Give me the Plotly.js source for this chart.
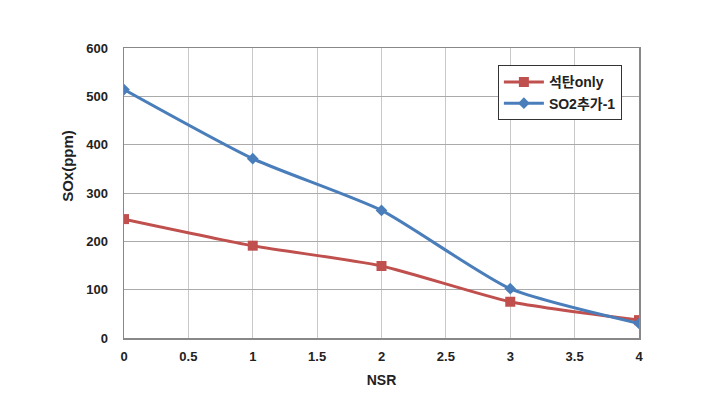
<!DOCTYPE html>
<html>
<head>
<meta charset="utf-8">
<script src="https://cdn.plot.ly/plotly-3.0.1.min.js"></script>
<style>html,body{margin:0;padding:0;background:#fff;}#chart{width:711px;height:402px;}</style>
</head>
<body>
<div id="chart"></div>
<script>
const nsr = [0, 1, 2, 3, 4];
const coalOnly = [246, 191, 149, 75, 37];
const so2Added = [514, 371, 264, 102, 30];
const seriesNames = ['석탄only', 'SO2추가-1'];
const xTicks = [0, 0.5, 1, 1.5, 2, 2.5, 3, 3.5, 4];
const yTicks = [0, 100, 200, 300, 400, 500, 600];

const fontFam = 'Liberation Sans, Arial, Noto Sans CJK KR, sans-serif';
const traces = [
  {x: nsr, y: coalOnly, name: seriesNames[0], type: 'scatter', mode: 'lines+markers',
   line: {color: '#C0504D', width: 3, shape: 'spline', smoothing: 0.6},
   marker: {symbol: 'square', size: 10, color: '#C0504D'}},
  {x: nsr, y: so2Added, name: seriesNames[1], type: 'scatter', mode: 'lines+markers',
   line: {color: '#4A7EBB', width: 3, shape: 'spline', smoothing: 0.6},
   marker: {symbol: 'diamond', size: 9, color: '#4A7EBB'}}
];
const layout = {
  width: 711, height: 402,
  margin: {l: 124, r: 72, t: 48, b: 64},
  paper_bgcolor: '#fff', plot_bgcolor: '#fff',
  font: {family: fontFam, size: 13, color: '#222'},
  showlegend: true,
  legend: {x: 0.726, y: 0.94, xanchor: 'left', yanchor: 'top',
    bordercolor: '#333', borderwidth: 1, bgcolor: '#fff',
    font: {family: fontFam, size: 14, color: '#222', weight: 'bold'},
    itemwidth: 40, tracegroupgap: 2},
  xaxis: {range: [0, 4], tickvals: xTicks, ticktext: xTicks.map(String),
    showgrid: true, gridcolor: '#c8c8c8', gridwidth: 1,
    showline: true, linecolor: '#888', linewidth: 1.5, mirror: true,
    zeroline: false, ticks: 'outside', ticklen: 6, tickcolor: '#fff',
    tickfont: {family: fontFam, size: 13, weight: 'bold', color: '#222'},
    title: {text: 'NSR', font: {family: fontFam, size: 14, weight: 'bold', color: '#222'}, standoff: 12}},
  yaxis: {range: [0, 600], tickvals: yTicks,
    showgrid: true, gridcolor: '#aaaaaa', gridwidth: 1,
    showline: true, linecolor: '#888', linewidth: 1.5, mirror: true,
    zeroline: false, ticks: 'outside', ticklen: 12, tickcolor: '#fff',
    tickfont: {family: fontFam, size: 13, weight: 'bold', color: '#222'}},
  annotations: [{text: 'SOx(ppm)', xref: 'paper', yref: 'paper', x: -0.111, y: 0.593,
    xanchor: 'center', yanchor: 'middle', textangle: -90, showarrow: false,
    font: {family: fontFam, size: 15, weight: 'bold', color: '#222'}}]
};
Plotly.newPlot('chart', traces, layout, {displayModeBar: false, staticPlot: true});
</script>
</body>
</html>
